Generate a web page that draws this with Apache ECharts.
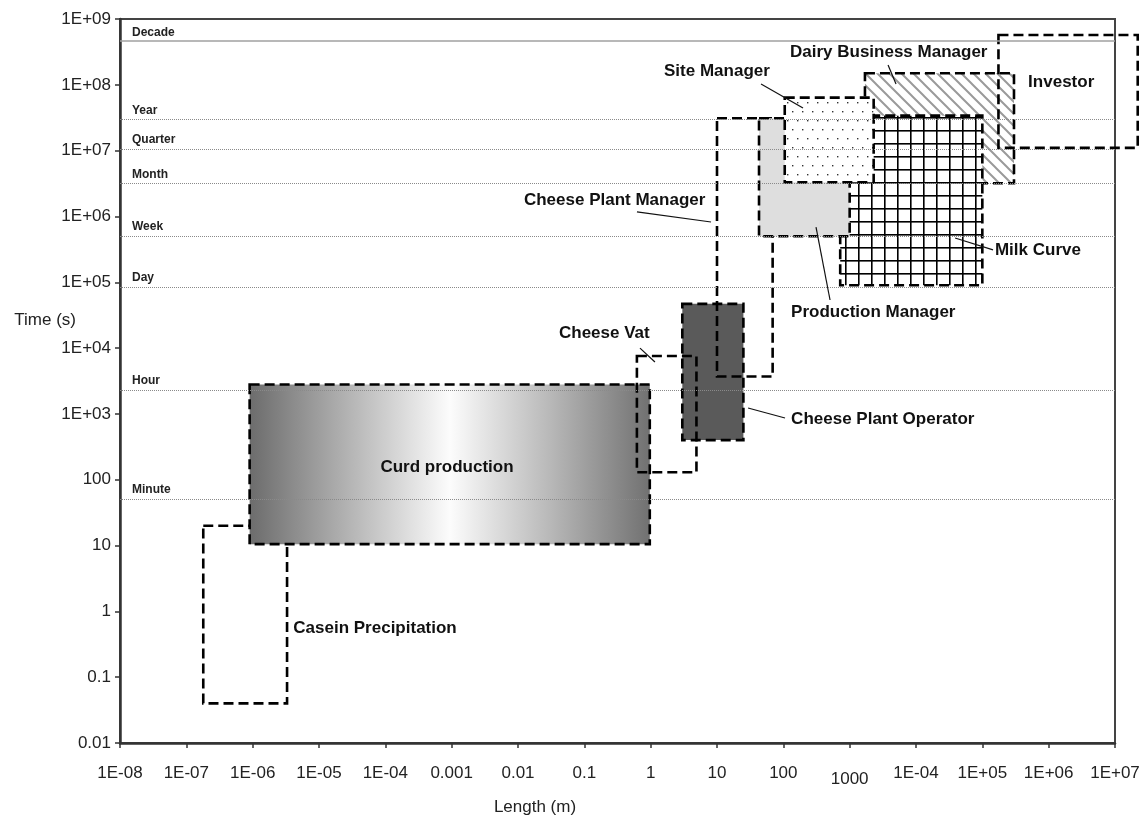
<!DOCTYPE html>
<html>
<head>
<meta charset="utf-8">
<script src="https://cdn.jsdelivr.net/npm/echarts@6/dist/echarts.min.js"></script>
<style>
  html, body { margin: 0; padding: 0; background: #fff; }
  #chart { width: 1145px; height: 815px; }
</style>
</head>
<body>
<div id="chart"></div>
<script>
/*----------------------------- data --------------------*/
var xTickLabels = ['1E-08', '1E-07', '1E-06', '1E-05', '1E-04', '0.001', '0.01', '0.1',
  '1', '10', '100', '1000', '1E-04', '1E+05', '1E+06', '1E+07'];
var yTickLabels = ['0.01', '0.1', '1', '10', '100', '1E+03', '1E+04', '1E+05',
  '1E+06', '1E+07', '1E+08', '1E+09'];

// time scale reference lines (s)
var refNames = ['Decade', 'Year', 'Quarter', 'Month', 'Week', 'Day', 'Hour', 'Minute'];
var refValues = [4.6e8, 3.0e7, 1.06e7, 3.2e6, 5.05e5, 8.5e4, 2300, 51];

// boxes, in drawing order: length range (m) and time range (s)
var boxNames = ['Casein Precipitation', 'Curd production', 'Cheese Plant Operator', 'Cheese Vat',
  'Cheese Plant Manager', 'Dairy Business Manager', 'Milk Curve', 'Production Manager',
  'Site Manager', 'Investor'];
var boxLenMin = [1.8e-7, 9e-7, 3.0, 0.62, 10, 1700, 720, 43, 105, 1.75e5];
var boxLenMax = [3.3e-6, 0.97, 25, 4.9, 69, 3.0e5, 1.0e5, 1000, 2300, 2.2e7];
var boxTimeMin = [0.04, 10.5, 400, 130, 3700, 3.2e6, 9.0e4, 5.0e5, 3.3e6, 1.1e7];
var boxTimeMax = [20, 2800, 4.7e4, 7600, 3.1e7, 1.5e8, 3.4e7, 3.1e7, 6.4e7, 5.7e8];

/*----------------------------- fills --------------------*/
function makePattern(w, h, draw) {
  var c = document.createElement('canvas');
  c.width = w; c.height = h;
  draw(c.getContext('2d'));
  return { image: c, repeat: 'repeat' };
}
var hatchFill = makePattern(12, 12, function (ctx) {
  ctx.strokeStyle = '#9a9a9a';
  ctx.lineWidth = 2;
  ctx.beginPath();
  ctx.moveTo(-3, -3); ctx.lineTo(15, 15);
  ctx.moveTo(-3, 9); ctx.lineTo(3, 15);
  ctx.moveTo(9, -3); ctx.lineTo(15, 3);
  ctx.stroke();
});
var dotFill = makePattern(10, 18, function (ctx) {
  ctx.fillStyle = '#fff';
  ctx.fillRect(0, 0, 10, 18);
  ctx.fillStyle = '#333';
  ctx.fillRect(2, 3, 1.4, 1.4);
  ctx.fillRect(7, 12, 1.4, 1.4);
});
var gridFill = makePattern(13, 13, function (ctx) {
  ctx.fillStyle = '#fff';
  ctx.fillRect(0, 0, 13, 13);
  ctx.fillStyle = '#000';
  ctx.fillRect(0, 0, 1.6, 13);
  ctx.fillRect(0, 0, 13, 1.6);
});
var curdFill = new echarts.graphic.LinearGradient(0, 0, 1, 0, [
  { offset: 0, color: '#6b6b6b' },
  { offset: 0.25, color: '#b4b4b4' },
  { offset: 0.5, color: '#fcfcfc' },
  { offset: 0.75, color: '#b8b8b8' },
  { offset: 1, color: '#707070' }
]);
var boxFill = {
  'Curd production': curdFill,
  'Cheese Plant Operator': '#5a5a5a',
  'Dairy Business Manager': hatchFill,
  'Milk Curve': gridFill,
  'Production Manager': '#dedede',
  'Site Manager': dotFill
};

/*----------------------------- callouts --------------------*/
// text anchor (data coords) and optional leader line
var callouts = [
  { text: 'Casein Precipitation', at: [4.1e-6, 0.56] },
  { text: 'Curd production', at: [8.5e-4, 156], align: 'center' },
  { text: 'Cheese Vat', at: [0.0415, 1.7e4], leader: [[0.69, 1.0e4], [1.16, 6150]] },
  { text: 'Cheese Plant Operator', at: [131, 837], leader: [[29.4, 1230], [106, 867]] },
  { text: 'Production Manager', at: [131, 3.53e4], leader: [[311, 6.9e5], [506, 5.38e4]] },
  { text: 'Cheese Plant Manager', at: [0.0123, 1.78e6], leader: [[0.622, 1.17e6], [8.13, 8.24e5]] },
  { text: 'Site Manager', at: [1.59, 1.62e8], leader: [[46.1, 1.03e8], [198, 4.45e7]] },
  { text: 'Dairy Business Manager', at: [126, 3.16e8], leader: [[3790, 2.0e8], [5000, 1.03e8]] },
  { text: 'Investor', at: [4.9e5, 1.1e8] },
  { text: 'Milk Curve', at: [1.55e5, 3.1e5], leader: [[1.45e5, 3.1e5], [3.88e4, 4.71e5]] }
];

/*----------------------------- chart --------------------*/
var myChart = echarts.init(document.getElementById('chart'));

var boxData = boxNames.map(function (n, i) {
  return [boxLenMin[i], boxLenMax[i], boxTimeMin[i], boxTimeMax[i]];
});

function decadeIndex(v, base) {
  return Math.round(Math.log(v) / Math.LN10) - base;
}

var option = {
  animation: false,
  textStyle: { fontFamily: 'Arial, "Liberation Sans", sans-serif' },
  grid: {
    left: 120, right: 30, top: 19, bottom: 72, outerBoundsMode: 'none',
    show: true, borderColor: '#444', borderWidth: 2
  },
  xAxis: {
    type: 'log', logBase: 10, min: 1e-8, max: 1e7, interval: 1,
    name: 'Length (m)', nameLocation: 'middle', nameGap: 56, nameMoveOverlap: false,
    nameTextStyle: { fontSize: 17, color: '#222', padding: [0, 165, 0, 0] },
    axisLine: { lineStyle: { color: '#333', width: 2.5 } },
    axisTick: { length: 5, lineStyle: { color: '#333', width: 1.5 } },
    axisLabel: {
      fontSize: 17, color: '#222', margin: 22,
      formatter: function (v) {
        var t = xTickLabels[decadeIndex(v, -8)];
        return t === '1000' ? '{low|' + t + '}' : t;
      },
      rich: { low: { fontSize: 17, color: '#222', padding: [6, 0, 0, 0] } }
    },
    splitLine: { show: false }
  },
  yAxis: {
    type: 'log', logBase: 10, min: 0.01, max: 1e9, interval: 1,
    name: 'Time (s)', nameLocation: 'middle', nameGap: 44, nameRotate: 0, nameMoveOverlap: false,
    nameTextStyle: { fontSize: 17, color: '#222', align: 'right', verticalAlign: 'bottom', lineHeight: 122 },
    axisLine: { lineStyle: { color: '#333', width: 2.5 } },
    axisTick: { length: 5, lineStyle: { color: '#333', width: 1.5 } },
    axisLabel: {
      fontSize: 17, color: '#222', margin: 9,
      formatter: function (v) { return yTickLabels[decadeIndex(v, -2)]; }
    },
    splitLine: { show: false }
  },
  series: [
    {
      // reference lines
      type: 'line', data: [], z: 1,
      markLine: {
        silent: true, symbol: 'none',
        data: refValues.map(function (v, i) {
          return {
            name: refNames[i], yAxis: v,
            lineStyle: i === 0
              ? { color: '#a0a0a0', width: 1.5, type: 'solid' }
              : { color: '#8a8a8a', width: 1, type: 'dotted' }
          };
        }),
        label: {
          show: true, position: 'insideStartTop', formatter: '{b}',
          fontSize: 12, fontWeight: 'bold', color: '#222', distance: [12, 3]
        }
      }
    },
    {
      // scale boxes
      type: 'custom', z: 2, clip: false,
      encode: { x: [0, 1], y: [2, 3] },
      data: boxData,
      renderItem: function (params, api) {
        var name = boxNames[params.dataIndex];
        var p0 = api.coord([api.value(0), api.value(3)]);
        var p1 = api.coord([api.value(1), api.value(2)]);
        return {
          type: 'rect',
          shape: { x: p0[0], y: p0[1], width: p1[0] - p0[0], height: p1[1] - p0[1] },
          style: {
            fill: boxFill[name] || 'none',
            stroke: '#000', lineWidth: 2.6, lineDash: [10, 5]
          }
        };
      }
    },
    {
      // callout texts and leader lines
      type: 'custom', z: 3, clip: false,
      encode: { x: 0, y: 1 },
      data: callouts.map(function (c) { return c.at; }),
      renderItem: function (params, api) {
        var c = callouts[params.dataIndex];
        var p = api.coord(c.at);
        var children = [{
          type: 'text', x: p[0], y: p[1],
          style: {
            text: c.text, fill: '#111', align: c.align || 'left', verticalAlign: 'middle',
            font: 'bold 17px Arial, "Liberation Sans", sans-serif'
          }
        }];
        if (c.leader) {
          var a = api.coord(c.leader[0]), b = api.coord(c.leader[1]);
          children.push({
            type: 'line',
            shape: { x1: a[0], y1: a[1], x2: b[0], y2: b[1] },
            style: { stroke: '#111', lineWidth: 1.2 }
          });
        }
        return { type: 'group', children: children };
      }
    }
  ]
};
myChart.setOption(option);
</script>
</body>
</html>
